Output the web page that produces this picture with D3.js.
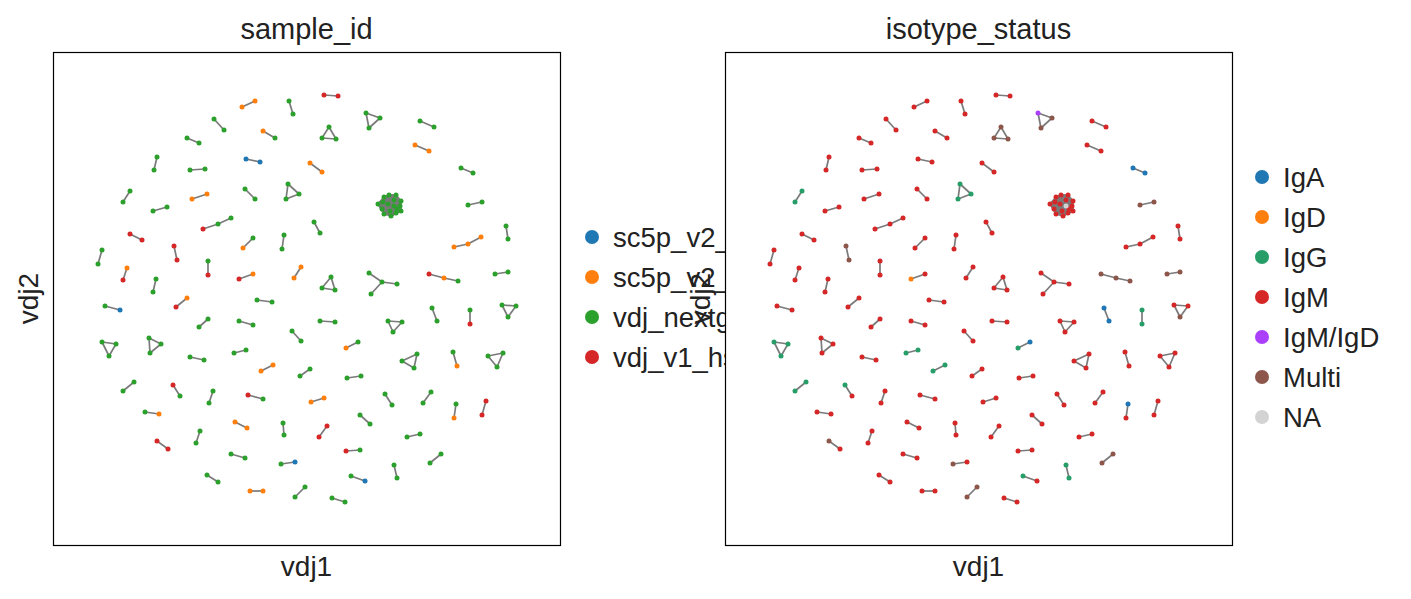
<!DOCTYPE html>
<html>
<head>
<meta charset="utf-8">
<script src="https://cdn.jsdelivr.net/npm/d3@7"></script>
<style>
  body { margin: 0; background: #fff; }
  svg { display: block; font-family: "Liberation Sans", Arial, sans-serif; }
</style>
</head>
<body>
<svg id="chart" width="1411" height="599"></svg>
<script>
'use strict';

// clonotype groups: layout coords [vdj1, vdj2] per node, edge kind,
// sample_id codes (B,O,G,R) and isotype codes (A,D,G,M,P,X,N) per node
var groups = [
  { kind: 'pair', pts: [[242, 107], [255, 101]], s: 'OO', i: 'MM' },
  { kind: 'pair', pts: [[289, 101], [293, 114]], s: 'GG', i: 'MM' },
  { kind: 'pair', pts: [[214, 119], [224, 130]], s: 'GG', i: 'MM' },
  { kind: 'pair', pts: [[263, 131], [275, 138]], s: 'OG', i: 'MM' },
  { kind: 'pair', pts: [[187, 138], [199, 143]], s: 'GG', i: 'MM' },
  { kind: 'pair', pts: [[157, 157], [154, 170]], s: 'GG', i: 'MM' },
  { kind: 'pair', pts: [[190, 170], [205, 169]], s: 'GG', i: 'MM' },
  { kind: 'pair', pts: [[246, 159], [260, 162]], s: 'BB', i: 'MM' },
  { kind: 'pair', pts: [[130, 191], [123, 202]], s: 'GG', i: 'GG' },
  { kind: 'tri', pts: [[288, 184], [286, 199], [299, 194]], s: 'GGG', i: 'GGG' },
  { kind: 'pair', pts: [[192, 199], [207, 194]], s: 'OO', i: 'MM' },
  { kind: 'pair', pts: [[245, 189], [255, 199]], s: 'GG', i: 'MM' },
  { kind: 'pair', pts: [[153, 211], [167, 207]], s: 'GG', i: 'MM' },
  { kind: 'pair', pts: [[324, 95], [338, 96]], s: 'RR', i: 'MM' },
  { kind: 'tri', pts: [[329, 127], [322, 138], [336, 139]], s: 'GGG', i: 'XXX' },
  { kind: 'tri', pts: [[366, 113], [380, 118], [369, 128]], s: 'GGG', i: 'PXX' },
  { kind: 'pair', pts: [[420, 121], [434, 127]], s: 'GG', i: 'MM' },
  { kind: 'pair', pts: [[415, 145], [429, 151]], s: 'OO', i: 'MM' },
  { kind: 'pair', pts: [[310, 163], [322, 172]], s: 'OO', i: 'MM' },
  { kind: 'pair', pts: [[461, 168], [473, 173]], s: 'GG', i: 'AA' },
  { kind: 'pair', pts: [[468, 205], [482, 202]], s: 'GG', i: 'XX' },
  { kind: 'clique', pts: [[378, 204], [384, 197], [389, 195], [396, 195], [401, 201], [400, 206],
      [401, 211], [396, 213], [391, 216], [384, 214], [382, 209], [383, 202], [388, 204],
      [394, 200], [390, 211], [397, 209], [394, 206]],
    s: 'GGGGGGGGGGGGGGGGG', i: 'MMMMMMMMMMMMMMMMN' },
  { kind: 'chain', pts: [[203, 229], [218, 224], [231, 218]], s: 'RGG', i: 'MMM' },
  { kind: 'pair', pts: [[130, 234], [142, 240]], s: 'RR', i: 'MM' },
  { kind: 'pair', pts: [[102, 250], [98, 264]], s: 'GG', i: 'MM' },
  { kind: 'pair', pts: [[174, 246], [177, 260]], s: 'RR', i: 'XX' },
  { kind: 'pair', pts: [[253, 238], [243, 248]], s: 'GO', i: 'MM' },
  { kind: 'pair', pts: [[284, 235], [282, 249]], s: 'GG', i: 'MM' },
  { kind: 'pair', pts: [[127, 268], [123, 280]], s: 'OR', i: 'MM' },
  { kind: 'pair', pts: [[208, 261], [208, 275]], s: 'GR', i: 'MM' },
  { kind: 'pair', pts: [[156, 279], [153, 292]], s: 'GG', i: 'MM' },
  { kind: 'pair', pts: [[239, 279], [253, 274]], s: 'RO', i: 'DM' },
  { kind: 'pair', pts: [[301, 267], [294, 278]], s: 'OO', i: 'MM' },
  { kind: 'pair', pts: [[105, 306], [120, 310]], s: 'GB', i: 'MM' },
  { kind: 'pair', pts: [[187, 298], [176, 307]], s: 'OR', i: 'MM' },
  { kind: 'pair', pts: [[257, 300], [272, 302]], s: 'GG', i: 'MM' },
  { kind: 'pair', pts: [[208, 319], [199, 327]], s: 'GG', i: 'MM' },
  { kind: 'pair', pts: [[239, 321], [253, 325]], s: 'GG', i: 'MM' },
  { kind: 'tri', pts: [[102, 342], [116, 344], [109, 356]], s: 'GGG', i: 'GGG' },
  { kind: 'tri', pts: [[149, 338], [161, 344], [150, 353]], s: 'GGG', i: 'MMM' },
  { kind: 'pair', pts: [[292, 331], [301, 341]], s: 'GG', i: 'MM' },
  { kind: 'pair', pts: [[190, 357], [204, 360]], s: 'GG', i: 'MM' },
  { kind: 'pair', pts: [[234, 353], [246, 350]], s: 'GG', i: 'GG' },
  { kind: 'pair', pts: [[261, 371], [273, 365]], s: 'OO', i: 'GG' },
  { kind: 'pair', pts: [[300, 376], [310, 369]], s: 'GG', i: 'MM' },
  { kind: 'pair', pts: [[314, 222], [320, 233]], s: 'GG', i: 'MM' },
  { kind: 'chain', pts: [[454, 247], [468, 244], [481, 237]], s: 'OOO', i: 'MMM' },
  { kind: 'pair', pts: [[506, 226], [508, 239]], s: 'GG', i: 'MM' },
  { kind: 'tri', pts: [[331, 277], [322, 288], [335, 290]], s: 'GGG', i: 'MMM' },
  { kind: 'star', pts: [[382, 282], [369, 273], [397, 284], [371, 294]], s: 'GGGG', i: 'MMMM' },
  { kind: 'chain', pts: [[429, 274], [444, 278], [458, 281]], s: 'ROG', i: 'XXX' },
  { kind: 'pair', pts: [[495, 274], [508, 272]], s: 'GG', i: 'XX' },
  { kind: 'pair', pts: [[320, 321], [335, 322]], s: 'GG', i: 'MM' },
  { kind: 'tri', pts: [[388, 321], [402, 322], [393, 332]], s: 'GGG', i: 'MMM' },
  { kind: 'pair', pts: [[432, 308], [437, 321]], s: 'GG', i: 'AA' },
  { kind: 'pair', pts: [[470, 310], [470, 324]], s: 'GR', i: 'GG' },
  { kind: 'tri', pts: [[502, 305], [516, 306], [508, 317]], s: 'GGG', i: 'MMX' },
  { kind: 'pair', pts: [[358, 342], [346, 348]], s: 'GO', i: 'AG' },
  { kind: 'tri', pts: [[417, 354], [402, 361], [414, 368]], s: 'GGG', i: 'MMM' },
  { kind: 'pair', pts: [[453, 352], [457, 366]], s: 'GO', i: 'MM' },
  { kind: 'tri', pts: [[503, 353], [488, 356], [497, 367]], s: 'GGG', i: 'MMM' },
  { kind: 'pair', pts: [[347, 378], [361, 376]], s: 'GG', i: 'MM' },
  { kind: 'pair', pts: [[134, 382], [123, 391]], s: 'GG', i: 'GG' },
  { kind: 'pair', pts: [[173, 385], [180, 396]], s: 'RG', i: 'GM' },
  { kind: 'pair', pts: [[213, 391], [209, 403]], s: 'GG', i: 'MM' },
  { kind: 'pair', pts: [[248, 395], [263, 399]], s: 'RG', i: 'MM' },
  { kind: 'pair', pts: [[311, 402], [324, 398]], s: 'OO', i: 'MM' },
  { kind: 'pair', pts: [[145, 412], [159, 414]], s: 'GO', i: 'MM' },
  { kind: 'pair', pts: [[235, 422], [247, 428]], s: 'OO', i: 'MM' },
  { kind: 'pair', pts: [[283, 423], [284, 435]], s: 'GG', i: 'MM' },
  { kind: 'pair', pts: [[200, 431], [196, 443]], s: 'GG', i: 'MM' },
  { kind: 'pair', pts: [[157, 441], [168, 449]], s: 'RR', i: 'XM' },
  { kind: 'pair', pts: [[231, 454], [245, 458]], s: 'GG', i: 'MM' },
  { kind: 'pair', pts: [[281, 464], [295, 462]], s: 'GB', i: 'XM' },
  { kind: 'pair', pts: [[207, 475], [218, 482]], s: 'GG', i: 'MM' },
  { kind: 'pair', pts: [[250, 491], [263, 491]], s: 'OO', i: 'MM' },
  { kind: 'pair', pts: [[295, 497], [305, 487]], s: 'GG', i: 'XX' },
  { kind: 'pair', pts: [[385, 394], [392, 405]], s: 'GG', i: 'MM' },
  { kind: 'pair', pts: [[431, 392], [423, 403]], s: 'GG', i: 'MM' },
  { kind: 'pair', pts: [[456, 404], [454, 418]], s: 'GO', i: 'AM' },
  { kind: 'pair', pts: [[486, 401], [482, 415]], s: 'RR', i: 'MM' },
  { kind: 'pair', pts: [[360, 415], [370, 424]], s: 'GG', i: 'MM' },
  { kind: 'pair', pts: [[327, 426], [319, 437]], s: 'RR', i: 'MM' },
  { kind: 'pair', pts: [[407, 437], [420, 434]], s: 'GG', i: 'MM' },
  { kind: 'pair', pts: [[346, 451], [360, 450]], s: 'RG', i: 'MM' },
  { kind: 'pair', pts: [[441, 454], [430, 463]], s: 'GG', i: 'XX' },
  { kind: 'pair', pts: [[394, 465], [397, 478]], s: 'GG', i: 'GG' },
  { kind: 'pair', pts: [[351, 476], [365, 481]], s: 'GB', i: 'GM' },
  { kind: 'pair', pts: [[332, 498], [345, 502]], s: 'GG', i: 'MM' }
];

var sampleCodes = ['B', 'O', 'G', 'R'];
var sampleNames = ['sc5p_v2_hs_PBMC_10k', 'sc5p_v2_hs_PBMC_1k', 'vdj_nextgem_hs_pbmc3', 'vdj_v1_hs_pbmc3'];
var sampleColors = ['#1f77b4', '#ff7f0e', '#2ca02c', '#d62728'];

var isoCodes = ['A', 'D', 'G', 'M', 'P', 'X', 'N'];
var isoNames = ['IgA', 'IgD', 'IgG', 'IgM', 'IgM/IgD', 'Multi', 'NA'];
var isoColors = ['#1f77b4', '#ff7f0e', '#279e68', '#d62728', '#aa40fc', '#8c564b', '#d3d3d3'];

var layoutX = [53, 560];
var layoutY = [52, 545];

var svg = d3.select('#chart');
var panelW = 507, panelH = 493, panelTop = 52;

function edgesOf(g) {
  var n = g.pts.length, out = [];
  if (g.kind === 'pair' || g.kind === 'chain') {
    for (var k = 0; k < n - 1; k++) out.push([k, k + 1]);
  } else if (g.kind === 'star') {
    for (var k2 = 1; k2 < n; k2++) out.push([0, k2]);
  } else {
    for (var a = 0; a < n; a++) for (var b = a + 1; b < n; b++) out.push([a, b]);
  }
  return out;
}

function drawPanel(left, title, field, codes, colors) {
  var x = d3.scaleLinear().domain(layoutX).range([left, left + panelW]);
  var y = d3.scaleLinear().domain(layoutY).range([panelTop, panelTop + panelH]);
  var color = d3.scaleOrdinal().domain(codes).range(colors);

  var g = svg.append('g');
  g.append('rect')
    .attr('x', left).attr('y', panelTop)
    .attr('width', panelW).attr('height', panelH)
    .attr('fill', '#fff');

  var links = [], nodes = [];
  groups.forEach(function (grp) {
    edgesOf(grp).forEach(function (e) {
      links.push({ a: grp.pts[e[0]], b: grp.pts[e[1]] });
    });
    grp.pts.forEach(function (p, k) {
      nodes.push({ x: p[0], y: p[1], c: grp[field][k] });
    });
  });

  g.append('g').selectAll('line').data(links).join('line')
    .attr('x1', function (d) { return x(d.a[0]); })
    .attr('y1', function (d) { return y(d.a[1]); })
    .attr('x2', function (d) { return x(d.b[0]); })
    .attr('y2', function (d) { return y(d.b[1]); })
    .attr('stroke', '#7a7a7a')
    .attr('stroke-width', 1.7);

  g.append('g').selectAll('circle').data(nodes).join('circle')
    .attr('cx', function (d) { return x(d.x); })
    .attr('cy', function (d) { return y(d.y); })
    .attr('r', 2.5)
    .attr('fill', function (d) { return color(d.c); });

  g.append('rect')
    .attr('x', left + 0.5).attr('y', panelTop + 0.5)
    .attr('width', panelW).attr('height', panelH)
    .attr('fill', 'none').attr('stroke', '#000').attr('stroke-width', 1.2);

  g.append('text')
    .attr('x', left + panelW / 2).attr('y', 39)
    .attr('text-anchor', 'middle').attr('font-size', 29).attr('fill', '#222')
    .text(title);

  g.append('text')
    .attr('x', left + panelW / 2).attr('y', 576)
    .attr('text-anchor', 'middle').attr('font-size', 28).attr('fill', '#222')
    .text('vdj1');

  g.append('text')
    .attr('transform', 'translate(' + (left - 15) + ',' + (panelTop + panelH / 2) + ') rotate(-90)')
    .attr('text-anchor', 'middle').attr('font-size', 28).attr('fill', '#222')
    .text('vdj2');
}

function drawLegend(x0, yCenter, names, colors) {
  var step = 40;
  var y0 = yCenter - step * (names.length - 1) / 2;
  var lg = svg.append('g');
  var item = lg.selectAll('g').data(names).join('g')
    .attr('transform', function (d, k) { return 'translate(' + x0 + ',' + (y0 + k * step) + ')'; });
  item.append('circle').attr('r', 7).attr('fill', function (d, k) { return colors[k]; });
  item.append('text').attr('x', 21).attr('dy', '0.35em')
    .attr('font-size', 27.5).attr('fill', '#222').text(function (d) { return d; });
}

drawPanel(53, 'sample_id', 's', sampleCodes, sampleColors);
drawLegend(592, 297, sampleNames, sampleColors);
drawPanel(725, 'isotype_status', 'i', isoCodes, isoColors);
drawLegend(1262, 297, isoNames, isoColors);
</script>
</body>
</html>
